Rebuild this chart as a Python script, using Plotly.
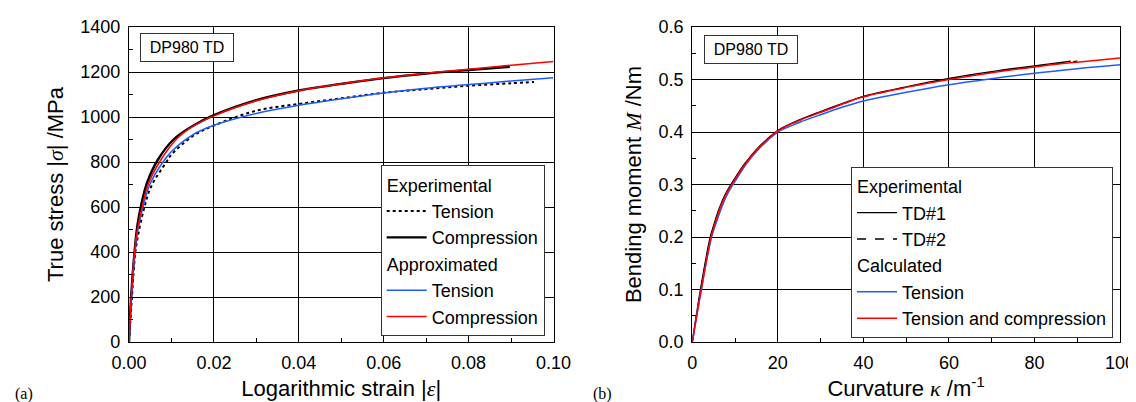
import plotly.graph_objects as go

# ---------------- Panel (a) data ----------------
strain_exp_t = [0, 0.0007, 0.0015, 0.0022, 0.0035, 0.0052, 0.0088, 0.01, 0.015, 0.02, 0.03, 0.04, 0.05, 0.06, 0.07, 0.08, 0.09, 0.0954]
stress_exp_t = [0, 200, 400, 480, 590, 690, 800, 833, 915, 962, 1028, 1058, 1083, 1108, 1124, 1139, 1150, 1156]

strain_exp_c = [0, 0.0005, 0.0013, 0.002, 0.003, 0.0043, 0.0068, 0.0105, 0.015, 0.02, 0.03, 0.04, 0.05, 0.06, 0.07, 0.08, 0.0897]
stress_exp_c = [0, 200, 400, 520, 620, 710, 810, 900, 960, 1008, 1075, 1118, 1147, 1173, 1193, 1209, 1223]

strain_app_t = [0, 0.0006, 0.0014, 0.002, 0.0033, 0.0049, 0.008, 0.01, 0.015, 0.02, 0.03, 0.04, 0.05, 0.06, 0.07, 0.08, 0.09, 0.10]
stress_app_t = [0, 200, 400, 490, 600, 700, 800, 847, 921, 963, 1016, 1052, 1081, 1107, 1128, 1144, 1160, 1175]

strain_app_c = [0, 0.00055, 0.0013, 0.002, 0.0031, 0.0045, 0.0072, 0.0111, 0.015, 0.02, 0.03, 0.04, 0.05, 0.06, 0.07, 0.08, 0.09, 0.10]
stress_app_c = [0, 200, 400, 500, 600, 700, 800, 900, 958, 1005, 1072, 1117, 1147, 1174, 1195, 1212, 1230, 1247]

# ---------------- Panel (b) data ----------------
kappa_td1 = [0, 1.9, 4.2, 5.1, 6.3, 7.8, 9.8, 12.3, 14.8, 17.3, 19.8, 25, 30, 35, 40, 50, 60, 70, 80, 88.5]
moment_td1 = [0, 0.1, 0.2, 0.225, 0.255, 0.283, 0.31, 0.34, 0.365, 0.385, 0.402, 0.423, 0.439, 0.454, 0.468, 0.486, 0.502, 0.515, 0.526, 0.535]

kappa_td2 = [0, 2.0, 4.3, 5.2, 6.4, 7.9, 9.9, 12.4, 14.9, 17.4, 19.9, 25, 30, 35, 40, 50, 60, 70, 80, 90]
moment_td2 = [0, 0.1, 0.2, 0.225, 0.255, 0.283, 0.31, 0.34, 0.365, 0.385, 0.402, 0.422, 0.438, 0.453, 0.467, 0.485, 0.501, 0.514, 0.525, 0.535]

kappa_calc_t = [0, 2.1, 4.5, 5.5, 6.8, 8.3, 10.3, 12.7, 15, 17.5, 20, 25, 30, 35, 40, 50, 60, 70, 80, 90, 100]
moment_calc_t = [0, 0.1, 0.2, 0.225, 0.255, 0.283, 0.31, 0.34, 0.363, 0.383, 0.400, 0.418, 0.433, 0.447, 0.459, 0.4756, 0.490, 0.5016, 0.512, 0.5206, 0.528]

kappa_calc_tc = [0, 2.1, 4.4, 5.3, 6.5, 8.0, 10, 12.5, 15, 17.5, 20, 25, 30, 35, 40, 50, 60, 70, 80, 90, 100]
moment_calc_tc = [0, 0.1, 0.2, 0.225, 0.255, 0.283, 0.31, 0.34, 0.365, 0.385, 0.402, 0.422, 0.4375, 0.453, 0.467, 0.485, 0.500, 0.513, 0.524, 0.533, 0.541]

BLUE = "#1f5cff"
RED = "#ff0000"
FONT = "Liberation Sans"
SERIF = "Liberation Serif"
SM = 1.0

fig = go.Figure()

# Panel (a)
fig.add_trace(go.Scatter(x=strain_exp_t, y=stress_exp_t, mode="lines", name="Tension",
                         line=dict(color="black", width=2, dash="dot", shape="spline", smoothing=SM),
                         legendgroup="aexp", legendgrouptitle_text="Experimental",
                         xaxis="x", yaxis="y", legend="legend"))
fig.add_trace(go.Scatter(x=strain_exp_c, y=stress_exp_c, mode="lines", name="Compression",
                         line=dict(color="black", width=2.4, shape="spline", smoothing=SM),
                         legendgroup="aexp", xaxis="x", yaxis="y", legend="legend"))
fig.add_trace(go.Scatter(x=strain_app_t, y=stress_app_t, mode="lines", name="Tension",
                         line=dict(color=BLUE, width=1.5, shape="spline", smoothing=SM),
                         legendgroup="aapp", legendgrouptitle_text="Approximated",
                         xaxis="x", yaxis="y", legend="legend"))
fig.add_trace(go.Scatter(x=strain_app_c, y=stress_app_c, mode="lines", name="Compression",
                         line=dict(color=RED, width=1.5, shape="spline", smoothing=SM),
                         legendgroup="aapp", xaxis="x", yaxis="y", legend="legend"))

# Panel (b)
fig.add_trace(go.Scatter(x=kappa_td1, y=moment_td1, mode="lines", name="TD#1",
                         line=dict(color="black", width=1.3, shape="spline", smoothing=SM),
                         legendgroup="bexp", legendgrouptitle_text="Experimental",
                         xaxis="x2", yaxis="y2", legend="legend2"))
fig.add_trace(go.Scatter(x=kappa_td2, y=moment_td2, mode="lines", name="TD#2",
                         line=dict(color="black", width=1.3, dash="dash", shape="spline", smoothing=SM),
                         legendgroup="bexp", xaxis="x2", yaxis="y2", legend="legend2"))
fig.add_trace(go.Scatter(x=kappa_calc_t, y=moment_calc_t, mode="lines", name="Tension",
                         line=dict(color=BLUE, width=1.5, shape="spline", smoothing=SM),
                         legendgroup="bcal", legendgrouptitle_text="Calculated",
                         xaxis="x2", yaxis="y2", legend="legend2"))
fig.add_trace(go.Scatter(x=kappa_calc_tc, y=moment_calc_tc, mode="lines", name="Tension and compression",
                         line=dict(color=RED, width=1.5, shape="spline", smoothing=SM),
                         legendgroup="bcal", xaxis="x2", yaxis="y2", legend="legend2"))

axis_common = dict(showline=True, linecolor="black", linewidth=1.3, mirror=True,
                   showgrid=True, gridcolor="black", gridwidth=1, automargin=False,
                   ticks="inside", ticklen=5, tickcolor="black", tickwidth=1,
                   zeroline=False, tickfont=dict(family=FONT, size=18, color="black"),
                   ticklabelstandoff=4)

legend_common = dict(bgcolor="white", bordercolor="#333", borderwidth=1,
                     font=dict(family=FONT, size=18, color="black"),
                     grouptitlefont=dict(family=FONT, size=18, color="black"),
                     itemwidth=40, tracegroupgap=0, traceorder="grouped",
                     xanchor="right", yanchor="bottom")

fig.update_layout(
    template="none",
    width=1136, height=402,
    margin=dict(l=0, r=0, t=19, b=68, autoexpand=False),
    paper_bgcolor="white", plot_bgcolor="white",
    font=dict(family=FONT, size=18, color="black"),
    showlegend=True,
    xaxis=dict(domain=[121/1136, 545.5/1136], range=[0, 0.10], dtick=0.02, tickformat=".2f",
               minor=dict(dtick=0.01, ticks="inside", ticklen=4, tickcolor="black", showgrid=False),
               title=dict(text="Logarithmic strain |<i><span style='font-family:Liberation Serif'>ε</span></i>|",
                          font=dict(family=FONT, size=22, color="black"), standoff=8),
               anchor="y", **axis_common),
    yaxis=dict(domain=[0, 1], range=[0, 1400], dtick=200,
               minor=dict(dtick=100, ticks="inside", ticklen=4, tickcolor="black", showgrid=False),
               title=dict(text="True stress |<i><span style='font-family:Liberation Serif'>σ</span></i>| /MPa",
                          font=dict(family=FONT, size=22, color="black"), standoff=10),
               anchor="x", **axis_common),
    xaxis2=dict(domain=[684.3/1136, 1112/1136], range=[0, 100], dtick=20,
                minor=dict(dtick=10, ticks="inside", ticklen=4, tickcolor="black", showgrid=False),
                title=dict(text="Curvature <i><span style='font-family:Liberation Serif'>κ</span></i> /m<sup>-1</sup>",
                           font=dict(family=FONT, size=22, color="black"), standoff=8),
                anchor="y2", **axis_common),
    yaxis2=dict(domain=[0, 1], range=[0, 0.6], dtick=0.1, tickformat=".1f",
                minor=dict(dtick=0.05, ticks="inside", ticklen=4, tickcolor="black", showgrid=False),
                title=dict(text="Bending moment <i><span style='font-family:Liberation Serif'>M</span></i> /Nm",
                           font=dict(family=FONT, size=22, color="black"), standoff=10),
                anchor="x2", **axis_common),
    legend=dict(x=536.7/1136, y=0.018, **legend_common),
    legend2=dict(x=1105/1136, y=0.0127, **legend_common),
)

# Label boxes and panel letters
fig.add_annotation(text="DP980 TD", xref="paper", yref="paper",
                   x=179/1136, y=(334-39.5)/315, xanchor="center", yanchor="middle",
                   showarrow=False, font=dict(family=FONT, size=16, color="black"),
                   bordercolor="#333", borderwidth=1, borderpad=3, bgcolor="white", width=86, height=21)
fig.add_annotation(text="DP980 TD", xref="paper", yref="paper",
                   x=743/1136, y=(334-41.7)/315, xanchor="center", yanchor="middle",
                   showarrow=False, font=dict(family=SERIF if False else FONT, size=16, color="black"),
                   bordercolor="#333", borderwidth=1, borderpad=3, bgcolor="white", width=86, height=21)
fig.add_annotation(text="(a)", xref="paper", yref="paper", x=6/1136, y=(334-386)/315,
                   xanchor="left", yanchor="middle", showarrow=False, borderpad=0,
                   font=dict(family=SERIF, size=16, color="black"))
fig.add_annotation(text="(b)", xref="paper", yref="paper", x=584/1136, y=(334-386)/315,
                   xanchor="left", yanchor="middle", showarrow=False, borderpad=0,
                   font=dict(family=SERIF, size=16, color="black"))

fig.write_html("out.html")
